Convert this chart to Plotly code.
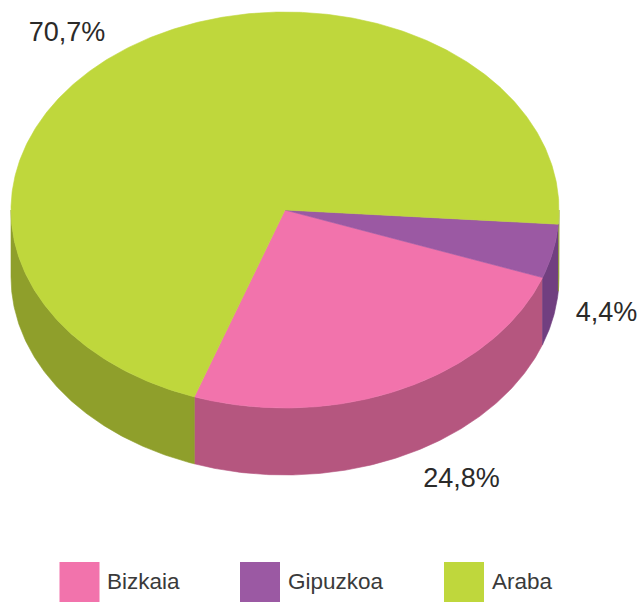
import numpy as np
import plotly.graph_objects as go

categories = ["Bizkaia", "Gipuzkoa", "Araba"]
values = [24.8, 4.4, 70.7]
value_labels = ["24,8%", "4,4%", "70,7%"]
top_colors = ["#F273AC", "#9B59A3", "#BFD73C"]
side_colors = ["#B5567F", "#713F80", "#8F9F2B"]

CX, CY, RX, RY, DEPTH = 285, 210, 274, 198, 67
W, H = 640, 602
start_angle = 4.1  # degrees clockwise from east where the slices begin
draw_order = [1, 0, 2]  # Gipuzkoa, Bizkaia, Araba going clockwise
label_pos = [(461.5, 480), (606.5, 314), (67, 34)]
legend_sw_x = [79.5, 260, 464]
legend_tx_x = [107, 288, 492]
LEG_Y = 582

total = sum(values)
starts, ends = [0] * 3, [0] * 3
a = start_angle
for i in draw_order:
    starts[i] = a
    a += values[i] / total * 360
    ends[i] = a


def arc(t0, t1, dy=0.0):
    n = max(2, int(abs(t1 - t0) * 2) + 2)
    t = np.radians(np.linspace(t0, t1, n))
    return CX + RX * np.cos(t), CY + RY * np.sin(t) + dy


fig = go.Figure()


def poly(x, y, color):
    fig.add_trace(go.Scatter(x=list(x) + [x[0]], y=list(y) + [y[0]], mode="lines", fill="toself",
                             fillcolor=color, line=dict(color=color, width=0.6),
                             hoverinfo="skip", showlegend=False))


# side walls: only the front half (0..180 degrees, also 360..540) is visible
for s, e, c in zip(starts, ends, side_colors):
    for lo, hi in [(0, 180), (360, 540)]:
        t0, t1 = max(s, lo), min(e, hi)
        if t1 > t0:
            xt, yt = arc(t0, t1)
            xb, yb = arc(t1, t0, DEPTH)
            poly(np.r_[xt, xb], np.r_[yt, yb], c)

# top faces
for s, e, c in zip(starts, ends, top_colors):
    xt, yt = arc(s, e)
    poly(np.r_[CX, xt], np.r_[CY, yt], c)

# percentage labels
fig.add_trace(go.Scatter(x=[p[0] for p in label_pos], y=[p[1] for p in label_pos], mode="text",
                         text=value_labels, textposition="middle center",
                         textfont=dict(family="Liberation Sans", size=27, color="#2b2a29"),
                         hoverinfo="skip", showlegend=False, cliponaxis=False))

# legend
fig.add_trace(go.Scatter(x=legend_sw_x, y=[LEG_Y] * 3, mode="markers",
                         marker=dict(symbol="square", size=40, color=top_colors, line=dict(width=0)),
                         hoverinfo="skip", showlegend=False, cliponaxis=False))
fig.add_trace(go.Scatter(x=legend_tx_x, y=[LEG_Y + 1] * 3, mode="text", text=categories,
                         textposition="middle right",
                         textfont=dict(family="Liberation Sans", size=22.5, color="#3a3a3a"),
                         hoverinfo="skip", showlegend=False, cliponaxis=False))

fig.update_layout(width=W, height=H, margin=dict(l=0, r=0, t=0, b=0),
                  paper_bgcolor="white", plot_bgcolor="white",
                  xaxis=dict(range=[0, W], visible=False, fixedrange=True),
                  yaxis=dict(range=[H, 0], visible=False, fixedrange=True))
fig.write_html("out.html", config={"displayModeBar": False},
               post_script="document.body.style.margin='0';document.documentElement.style.overflow='hidden';")
